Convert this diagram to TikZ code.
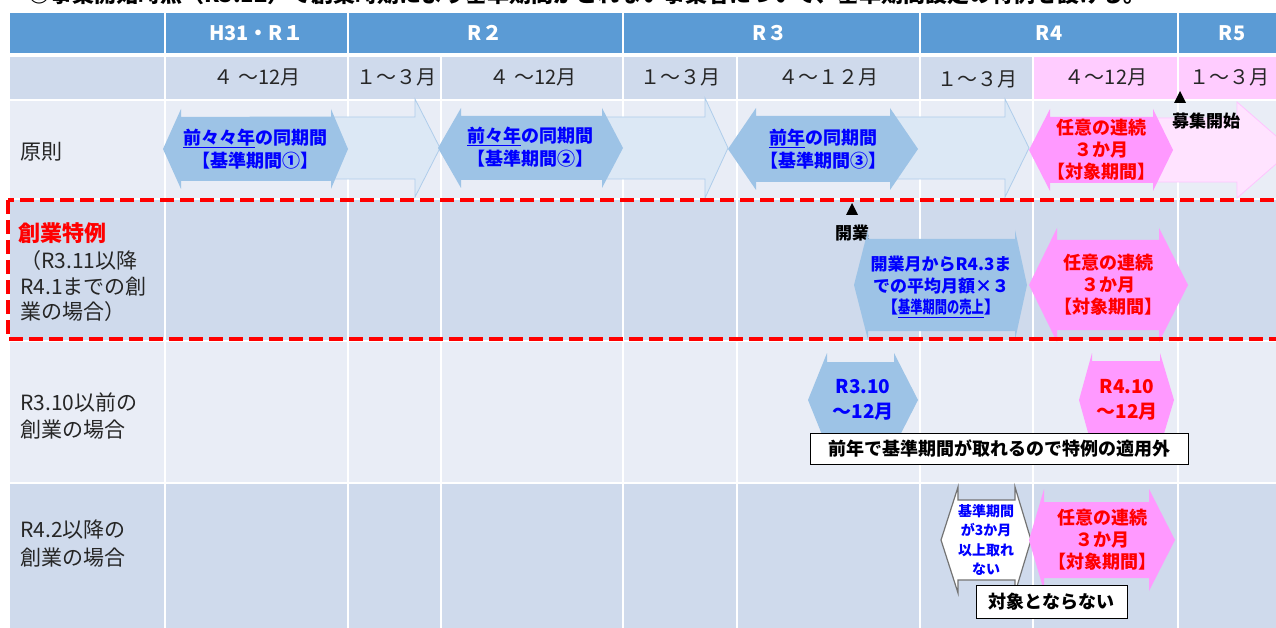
\documentclass[tikz,border=0pt]{standalone}
\usepackage{fontspec}
\setmainfont{Noto Sans CJK JP}
\definecolor{hdr}{HTML}{5B9BD5}
\definecolor{darkrow}{HTML}{CFDAEC}
\definecolor{lightrow}{HTML}{E9EDF6}
\definecolor{pinkbg}{HTML}{FFCCFF}
\definecolor{bluefill}{HTML}{9DC3E6}
\definecolor{pinkfill}{HTML}{FF99FF}
\definecolor{lblue}{HTML}{DCE8F5}
\definecolor{lbluedraw}{HTML}{AFCDEB}
\definecolor{lpink}{HTML}{FFE3FF}
\definecolor{lpinkdraw}{HTML}{FFC4FF}
\definecolor{bluetxt}{HTML}{0000FF}
\definecolor{redtxt}{HTML}{FF0000}
\newcommand\pxs[2]{\fontsize{#1pt}{#2pt}\selectfont}
% double (left-right) arrow: style, x1, x2, cy, inset left, inset right, head half, body half
\newcommand\dblarrow[8]{%
 \path[#1] (#2,#4) -- ({#2+#5},{#4-#7}) -- ({#2+#5},{#4-#8}) -- ({#3-#6},{#4-#8}) -- ({#3-#6},{#4-#7}) -- (#3,#4) -- ({#3-#6},{#4+#7}) -- ({#3-#6},{#4+#8}) -- ({#2+#5},{#4+#8}) -- ({#2+#5},{#4+#7}) -- cycle;}
% right arrow: style, x start, head base, tip, cy, head half, body half
\newcommand\rarrow[7]{%
 \path[#1] (#2,{#5-#7}) -- (#3,{#5-#7}) -- (#3,{#5-#6}) -- (#4,#5) -- (#3,{#5+#6}) -- (#3,{#5+#7}) -- (#2,{#5+#7}) -- cycle;}
\tikzset{
 lbl/.style={anchor=west, inner sep=0, font=\pxs{21}{26}, text=black!85},
 hdrt/.style={inner sep=0, font=\pxs{20}{24}\bfseries, text=white},
 mon/.style={inner sep=0, font=\pxs{20}{24}, text=black!85},
 bt/.style={inner sep=0, align=center, font=\pxs{18}{23}\bfseries, text=bluetxt},
 rt/.style={inner sep=0, align=center, font=\pxs{18}{22}\bfseries, text=redtxt},
 blk/.style={inner sep=0, font=\pxs{17}{20}\bfseries, text=black},
 boxt/.style={draw=black, fill=white, line width=1pt, font=\pxs{18}{22}\bfseries, text=black, inner sep=0, align=center},
 grid/.style={white, line width=2pt},
 bluearrow/.style={fill=bluefill},
 pinkarrow/.style={fill=pinkfill},
 lightarrow/.style={fill=lblue, draw=lbluedraw, line width=0.8pt},
 lightpink/.style={fill=lpink, draw=lpinkdraw, line width=0.8pt},
 whitearrow/.style={fill=white, draw=black!55, line width=1.2pt},
 reddash/.style={draw=red, line width=4pt, dash pattern=on 14pt off 6pt},
}
\begin{document}
\begin{tikzpicture}[x=1pt,y=-1pt]
\useasboundingbox (0,0) rectangle (1276,628);
% title line, cut off at the top edge as in the reference
\begin{scope}
\clip (0,0) rectangle (1276,12);
\node[anchor=base west, inner sep=0, font=\pxs{22}{26}\bfseries] (title) at (28,2.5) {◎事業開始時点（R3.12）で創業時期により基準期間がとれない事業者について、基準期間設定の特例を設ける。};
\end{scope}
% backgrounds
\fill[hdr] (10,13) rectangle (1276,53);
\fill[darkrow] (10,57) rectangle (1276,100);
\fill[pinkbg] (1033,57) rectangle (1276,100);
\fill[lightrow] (10,100) rectangle (1276,199);
\fill[darkrow] (10,199) rectangle (1276,341);
\fill[lightrow] (10,341) rectangle (1276,483);
\fill[darkrow] (10,483) rectangle (1276,628);
% grid
\foreach \x in {165,348,623,920,1178} \draw[white, line width=1.5pt] (\x,13) -- (\x,53);
\foreach \x in {165,348,441,623,737,920,1033,1178} \draw[grid] (\x,57) -- (\x,628);
\foreach \y in {100,199,341,483} \draw[grid] (10,\y) -- (1276,\y);
% header texts
\node[hdrt] (y1) at (256,33) {H31・R１};
\node[hdrt] (y2) at (485,33) {R２};
\node[hdrt] (y3) at (770,33) {R３};
\node[hdrt] (y4) at (1049,33) {R4};
\node[hdrt] (y5) at (1232,33) {R5};
% months
\node[mon] (m1) at (257,77) {４ ～12月};
\node[mon] (m2) at (396,77) {１～３月};
\node[mon] (m3) at (533,77) {４ ～12月};
\node[mon] (m4) at (680,77) {１～３月};
\node[mon] (m5) at (828,77) {４～１２月};
\node[mon] (m6) at (977,79) {１～３月};
\node[mon] (m7) at (1106,77) {４～12月};
\node[mon] (m8) at (1229,77) {１～３月};
% row labels
\node[lbl] (l1) at (20,152) {原則};
\node[lbl, font=\pxs{22}{26}\bfseries, text=redtxt] (l2a) at (18,233) {創業特例};
\node[lbl] (l2b) at (20,261) {（R3.11以降};
\node[lbl] (l2c) at (20,287) {R4.1までの創};
\node[lbl] (l2d) at (20,312) {業の場合）};
\node[lbl] (l3a) at (20,402) {R3.10以前の};
\node[lbl] (l3b) at (20,430) {創業の場合};
\node[lbl] (l4a) at (20,530) {R4.2以降の};
\node[lbl] (l4b) at (20,558) {創業の場合};
% row 1 light arrows
\rarrow{lightarrow}{250}{415}{440}{148}{49}{31}
\rarrow{lightarrow}{540}{705}{728}{148}{50}{31}
\rarrow{lightarrow}{830}{1005}{1029}{148}{49}{31}
\rarrow{lightpink}{1110}{1237}{1292}{150}{48}{32}
% row 1 double arrows
\dblarrow{bluearrow}{163}{348}{149}{18}{17}{40}{32}
\dblarrow{bluearrow}{438}{623}{148}{23}{21}{40}{32}
\dblarrow{bluearrow}{728}{918}{149}{28}{28}{41}{33}
\dblarrow{pinkarrow}{1029}{1173}{150}{21}{20}{41}{33}
\node[bt] (a1) at (255,149) {\underline{前々々年}の同期間\\【基準期間①】};
\node[bt] (a2) at (530,147) {\underline{前々年}の同期間\\【基準期間②】};
\node[bt] (a3) at (823,149) {\underline{前年}の同期間\\【基準期間③】};
\node[rt] (p1) at (1101,150) {任意の連続\\３か月\\【対象期間】};
\fill (1180,91) -- (1174,103) -- (1186,103) -- cycle;
\node[blk, anchor=west] (boshu) at (1172,121) {募集開始};
% row 2
\fill (852,203) -- (846,215) -- (858,215) -- cycle;
\node[blk] (kaigyo) at (852,233) {開業};
\dblarrow{bluearrow}{854}{1027}{285}{14}{12}{55}{46}
\dblarrow{pinkarrow}{1029}{1188}{285}{28}{29}{57}{45}
\node[bt, font=\pxs{17}{21.5}\bfseries] (a4) at (941,287) {開業月からR4.3ま\\での平均月額×３\\【\scalebox{0.72}[1]{\underline{基準期間の売上}}】};
\node[rt] (p2) at (1108,285) {任意の連続\\３か月\\【対象期間】};
% row 3
\dblarrow{bluearrow}{808}{918}{400}{19}{24}{47}{38}
\dblarrow{pinkarrow}{1079}{1174}{400}{13}{14}{47}{39}
\node[bt, font=\pxs{19}{25}\bfseries] (a5) at (863,400) {R3.10\\～12月};
\node[rt, font=\pxs{19}{25}\bfseries] (p3) at (1127,400) {R4.10\\～12月};
\node[boxt, minimum width=378pt, minimum height=31pt] (note1) at (999,448.5) {前年で基準期間が取れるので特例の適用外};
% row 4
\dblarrow{whitearrow}{941}{1031}{540}{17}{16}{53}{40}
\dblarrow{pinkarrow}{1029}{1175}{540}{15}{26}{51}{38}
\node[bt, font=\pxs{14}{19.5}\bfseries] (a6) at (986,540) {基準期間\\が3か月\\以上取れ\\ない};
\node[rt] (p4) at (1102,540) {任意の連続\\３か月\\【対象期間】};
\node[boxt, minimum width=151pt, minimum height=33pt] (note2) at (1051.5,601.5) {対象とならない};
% red dashed frame
\draw[reddash] (8,200) rectangle (1292,339);
\end{tikzpicture}
\end{document}
